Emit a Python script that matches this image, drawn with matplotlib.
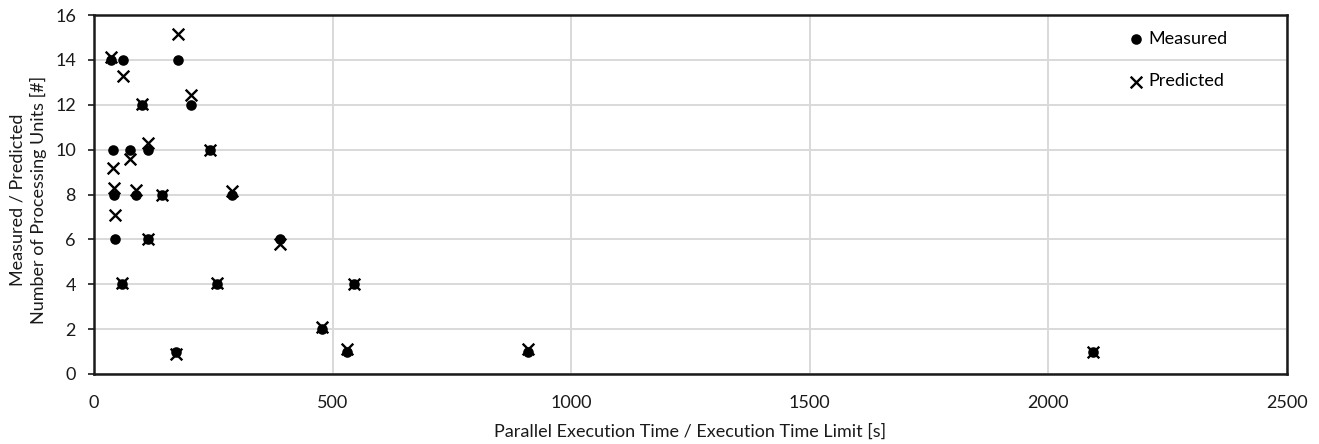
import matplotlib
matplotlib.use("Agg")
import matplotlib.pyplot as plt

plt.rcParams["font.family"] = ["Lato", "DejaVu Sans"]

# measured points
meas_x = [35, 60, 177, 101, 204, 40, 76, 114, 244, 42, 88, 142, 289,
          45, 113, 389, 58, 257, 544, 477, 172, 531, 910, 2094]
meas_y = [14, 14, 14, 12, 12, 10, 10, 10, 10, 8, 8, 8, 8,
          6, 6, 6, 4, 4, 4, 2, 1, 1, 1, 1]

# predicted points
pred_x = [36, 60, 177, 101, 204, 40, 76, 114, 244, 42, 88, 142, 289,
          45, 113, 389, 58, 257, 544, 477, 172, 531, 910, 2094]
pred_y = [14.15, 13.26, 15.16, 12.02, 12.44, 9.19, 9.56, 10.3, 10.0, 8.3, 8.22, 8.0, 8.15,
          7.08, 6.0, 5.78, 4.07, 4.07, 4.0, 2.1, 0.88, 1.1, 1.1, 1.0]

W, H = 1319, 444
FS = 13
TXT = "#1a1a1a"
fig = plt.figure(figsize=(W / 100, H / 100), dpi=100)
ax = fig.add_axes([94 / W, 1 - 374 / H, (1287 - 94) / W, (374 - 15) / H])

ax.scatter(meas_x, meas_y, marker="o", s=58, color="black", linewidths=0,
           label="Measured", zorder=3)
ax.scatter(pred_x, pred_y, marker="x", s=70, color="black", linewidths=1.7,
           label="Predicted", zorder=4)

ax.set_xlim(0, 2500)
ax.set_ylim(0, 16)
ax.set_xticks(range(0, 2501, 500))
ax.set_yticks(range(0, 17, 2))
ax.grid(True, color="#d9d9d9", linewidth=1.4)
ax.set_axisbelow(True)
for sp in ax.spines.values():
    sp.set_color(TXT)
    sp.set_linewidth(1.8)
ax.tick_params(axis="y", direction="out", length=4, width=1.2, pad=9,
               labelsize=FS, colors=TXT)
ax.tick_params(axis="x", direction="out", length=0, pad=15,
               labelsize=FS, colors=TXT)

fig.text(690.5 / W, 1 - 432 / H, "Parallel Execution Time / Execution Time Limit [s]",
         fontsize=FS, color=TXT, ha="center", va="center")
fig.text(28 / W, 1 - 200 / H, "Measured / Predicted\nNumber of Processing Units [#]",
         fontsize=FS, color=TXT, ha="center", va="center", rotation=90,
         multialignment="center", linespacing=1.3)

ax.legend(loc="upper left", frameon=False, fontsize=FS, handletextpad=0.32,
          labelspacing=1.45, handlelength=0.8, borderaxespad=0,
          bbox_to_anchor=(0.861, 0.975))

fig.savefig("out.png", dpi=100)
